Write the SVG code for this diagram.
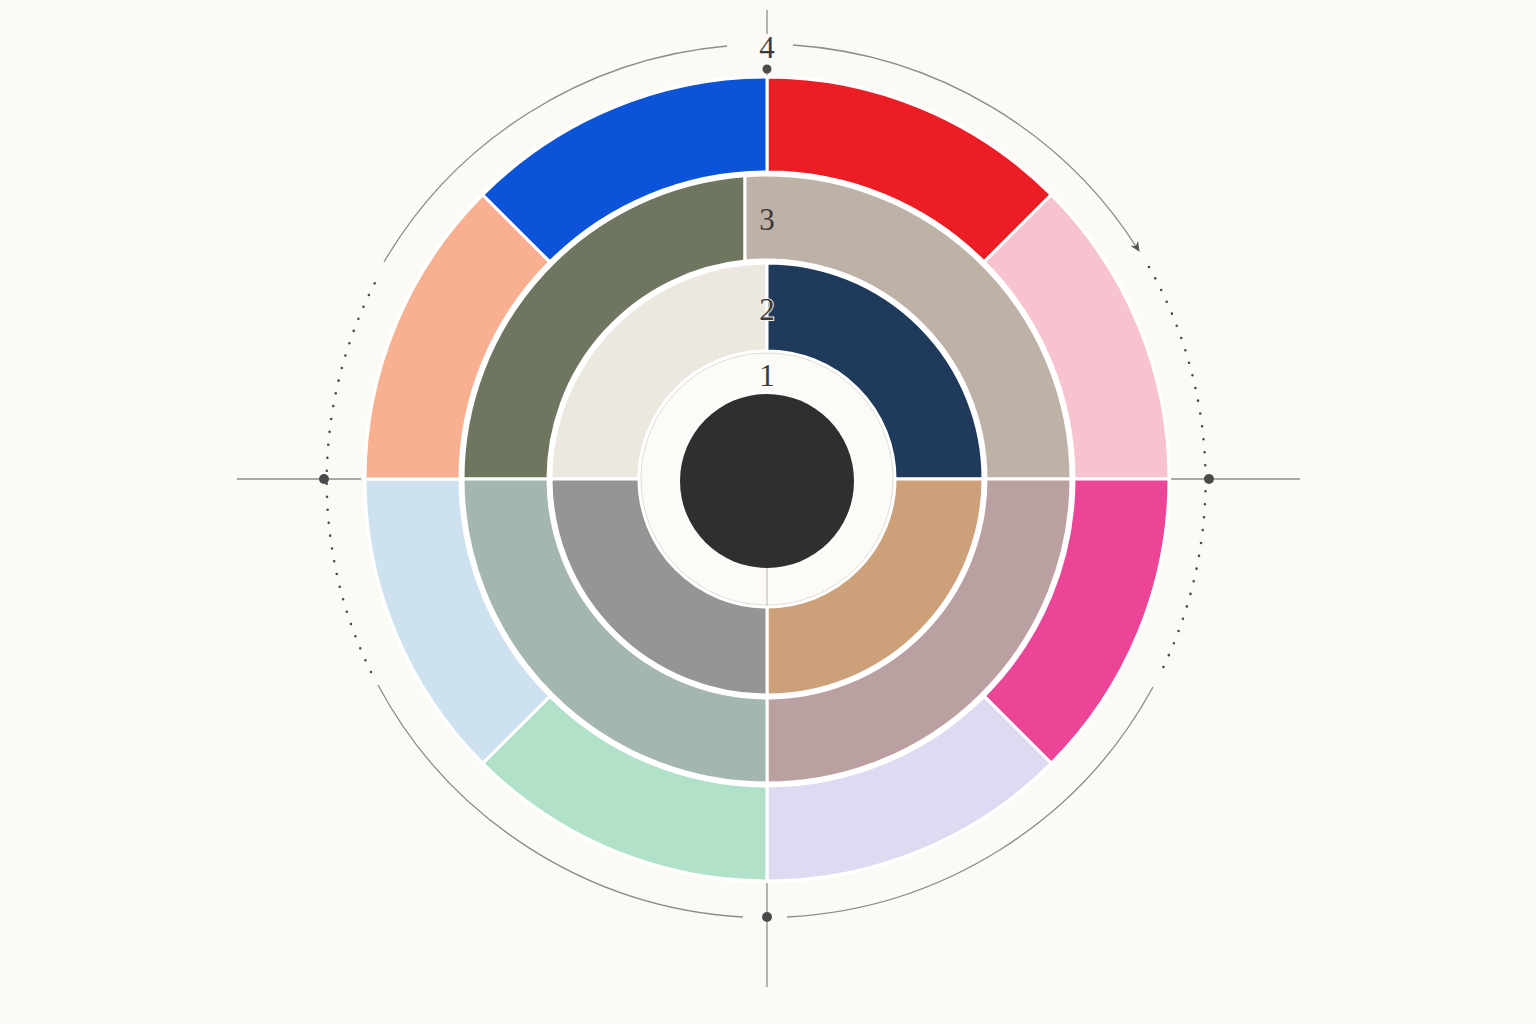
<svg xmlns="http://www.w3.org/2000/svg" width="1536" height="1024" viewBox="0 0 1536 1024">
<defs>
<style>
.seg{stroke:#FFFFFF;stroke-width:3;stroke-linejoin:round}
.lbl{font-family:"Liberation Serif","Times New Roman",serif;font-size:31px;fill:#3A3A3A;text-anchor:middle}
.halo{paint-order:stroke;stroke:#EFECE6;stroke-width:2}
.arc{fill:none;stroke:#8C8C8C;stroke-width:1.3}
.dots{fill:none;stroke:#4A4A4A;stroke-width:2.6;stroke-linecap:round;stroke-dasharray:0 13}
.axis{stroke:#8E8E8E;stroke-width:1.3}
.pin{fill:#4A4A4A}
</style>
<marker id="arrow" viewBox="0 0 10 10" refX="9" refY="5" markerWidth="10" markerHeight="10" markerUnits="userSpaceOnUse" orient="auto">
<path d="M0,0.5 L10,5 L0,9.5 L3,5 Z" fill="#555555"/>
</marker>
</defs>
<rect width="1536" height="1024" fill="#FBFAF4"/>

<g id="connectors">
<line class="axis" x1="767" y1="10" x2="767" y2="34"/>
<line class="axis" x1="767" y1="66" x2="767" y2="79"/>
<line class="axis" x1="767" y1="881" x2="767" y2="987"/>
<line class="axis" x1="237" y1="479" x2="361" y2="479"/>
<line class="axis" x1="1171" y1="479" x2="1300" y2="479"/>
<path class="arc" d="M384,262 A442,437 0 0 1 727,46"/>
<path class="arc" d="M793,45 A442,437 0 0 1 1139,251" marker-end="url(#arrow)"/>
<path class="dots" d="M1149,267 A442,437 0 0 1 1161,672"/>
<path class="arc" d="M1153,687 A442,437 0 0 1 787,917"/>
<path class="arc" d="M743,917 A442,437 0 0 1 378,685"/>
<path class="dots" d="M371,672 A442,437 0 0 1 378,277"/>
</g>

<circle cx="767" cy="479" r="404" fill="#FFFFFF"/>

<g id="ring4">
<path class="seg" fill="#EC1D24" d="M767,77 A402,402 0 0 1 1051.26,194.74 L984.08,261.92 A307,307 0 0 0 767,172 Z"/>
<path class="seg" fill="#F6C3CE" d="M1051.26,194.74 A402,402 0 0 1 1169,479 L1074,479 A307,307 0 0 0 984.08,261.92 Z"/>
<path class="seg" fill="#EC4497" d="M1169,479 A402,402 0 0 1 1051.26,763.26 L984.08,696.08 A307,307 0 0 0 1074,479 Z"/>
<path class="seg" fill="#DEDAF2" d="M1051.26,763.26 A402,402 0 0 1 767,881 L767,786 A307,307 0 0 0 984.08,696.08 Z"/>
<path class="seg" fill="#B1E2C9" d="M767,881 A402,402 0 0 1 482.74,763.26 L549.92,696.08 A307,307 0 0 0 767,786 Z"/>
<path class="seg" fill="#CDE1EF" d="M482.74,763.26 A402,402 0 0 1 365,479 L460,479 A307,307 0 0 0 549.92,696.08 Z"/>
<path class="seg" fill="#F8B090" d="M365,479 A402,402 0 0 1 482.74,194.74 L549.92,261.92 A307,307 0 0 0 460,479 Z"/>
<path class="seg" fill="#0B54D9" d="M482.74,194.74 A402,402 0 0 1 767,77 L767,172 A307,307 0 0 0 549.92,261.92 Z"/>
</g>

<g id="ring3">
<path class="seg" fill="#6F765F" d="M463,479 A304,304 0 0 1 745,175.8 L745,261.1 A219,219 0 0 0 548,479 Z"/>
<path class="seg" fill="#BEB2A6" d="M745,175.8 A304,304 0 0 1 1071,479 L986,479 A219,219 0 0 0 745,261.1 Z"/>
<path class="seg" fill="#BBA0A1" d="M1071,479 A304,304 0 0 1 767,783 L767,698 A219,219 0 0 0 986,479 Z"/>
<path class="seg" fill="#A3B6AF" d="M767,783 A304,304 0 0 1 463,479 L548,479 A219,219 0 0 0 767,698 Z"/>
</g>

<g id="ring2">
<path class="seg" fill="#ECE8E0" d="M551,479 A216,216 0 0 1 767,263 L767,351 A128,128 0 0 0 639,479 Z"/>
<path class="seg" fill="#1F3A5B" d="M767,263 A216,216 0 0 1 983,479 L895,479 A128,128 0 0 0 767,351 Z"/>
<path class="seg" fill="#CCA079" d="M983,479 A216,216 0 0 1 767,695 L767,607 A128,128 0 0 0 895,479 Z"/>
<path class="seg" fill="#959595" d="M767,695 A216,216 0 0 1 551,479 L639,479 A128,128 0 0 0 767,607 Z"/>
</g>

<g id="ring1">
<circle cx="767" cy="479" r="126" fill="#FCFBF7" stroke="#E2DED7" stroke-width="1"/>
<line x1="767" y1="566" x2="767" y2="606" stroke="#C4C0B8" stroke-width="1.2"/>
</g>

<g id="core">
<circle cx="767" cy="481" r="87" fill="#2F2F2F"/>
</g>

<g id="pins">
<circle class="pin" cx="767" cy="69" r="4.5"/>
<circle class="pin" cx="767" cy="917" r="5"/>
<circle class="pin" cx="324" cy="479" r="5"/>
<circle class="pin" cx="1209" cy="479" r="5"/>
</g>

<g id="labels">
<text class="lbl" x="767" y="58">4</text>
<text class="lbl" x="767" y="230">3</text>
<text class="lbl halo" x="767" y="320">2</text>
<text class="lbl" x="767" y="386">1</text>
</g>
</svg>
